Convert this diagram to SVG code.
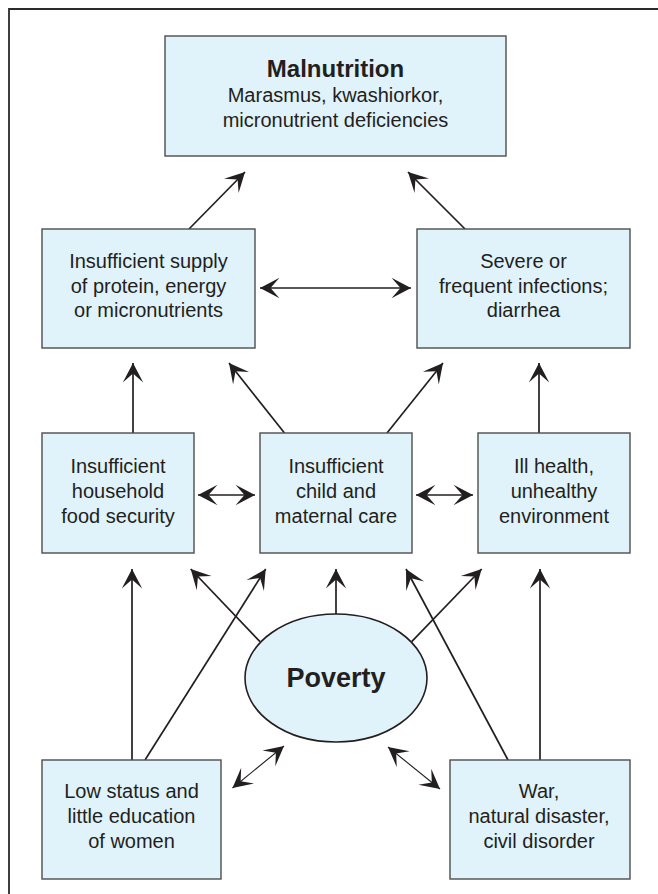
<svg xmlns="http://www.w3.org/2000/svg" width="658" height="894" viewBox="0 0 658 894">
  <defs>
    <style>
      .box { fill: #e0f2fa; stroke: #4d4d4d; stroke-width: 1.4; }
      .t { font-family: "Liberation Sans", Arial, sans-serif; font-size: 20px; fill: #231f20; text-anchor: middle; }
      .h1 { font-weight: bold; font-size: 24px; }
      .h2 { font-weight: bold; font-size: 27px; }
      .c { stroke: #231f20; stroke-width: 1.7; fill: none; marker-end: url(#ah); }
      .d { marker-start: url(#ah); }
      .thin { stroke-width: 1.1; }
    </style>
    <marker id="ah" markerUnits="userSpaceOnUse" viewBox="0 0 22 22" markerWidth="22" markerHeight="22" refX="20.5" refY="11" orient="auto-start-reverse">
      <path d="M20.5,11 L1,0.8 L10,11 L1,21.2 Z" fill="#231f20"/>
    </marker>
  </defs>

  <rect width="658" height="894" fill="#ffffff"/>
  <path d="M9,894 L9,9 L658,9" fill="none" stroke="#2b2b2b" stroke-width="1.8"/>

  <g id="connectors">
    <line class="c" x1="189" y1="229" x2="245" y2="172"/>
    <line class="c" x1="465" y1="229" x2="408" y2="172"/>
    <line class="c d" x1="260" y1="288" x2="411" y2="288"/>
    <line class="c" x1="133" y1="433" x2="133" y2="363"/>
    <line class="c" x1="284.5" y1="433" x2="229" y2="363"/>
    <line class="c" x1="387" y1="433" x2="443" y2="363"/>
    <line class="c" x1="539" y1="433" x2="539" y2="363"/>
    <line class="c d" x1="198" y1="495" x2="255" y2="495"/>
    <line class="c d" x1="416" y1="495" x2="473" y2="495"/>
    <line class="c" x1="132" y1="760" x2="132" y2="569"/>
    <line class="c" x1="260" y1="641.7" x2="190.7" y2="569"/>
    <line class="c" x1="145" y1="760" x2="265.7" y2="569"/>
    <line class="c" x1="336" y1="614" x2="336" y2="569"/>
    <line class="c" x1="508" y1="760" x2="406" y2="569"/>
    <line class="c" x1="411.7" y1="641.7" x2="481.7" y2="569"/>
    <line class="c" x1="540" y1="760" x2="540" y2="569"/>
    <line class="c d thin" x1="232.5" y1="788" x2="284" y2="746"/>
    <line class="c d thin" x1="388" y1="747" x2="440" y2="789"/>
  </g>

  <g id="malnutrition">
    <rect class="box" x="165" y="36" width="341" height="120"/>
    <text class="t h1" x="335.5" y="77">Malnutrition</text>
    <text class="t" x="335.5" y="102">Marasmus, kwashiorkor,</text>
    <text class="t" x="335.5" y="127">micronutrient deficiencies</text>
  </g>

  <g id="supply">
    <rect class="box" x="42" y="229" width="213" height="119"/>
    <text class="t" x="148.5" y="268">Insufficient supply</text>
    <text class="t" x="148.5" y="293">of protein, energy</text>
    <text class="t" x="148.5" y="317">or micronutrients</text>
  </g>

  <g id="infections">
    <rect class="box" x="417" y="229" width="213" height="119"/>
    <text class="t" x="523.5" y="268">Severe or</text>
    <text class="t" x="523.5" y="293">frequent infections;</text>
    <text class="t" x="523.5" y="317">diarrhea</text>
  </g>

  <g id="household">
    <rect class="box" x="42" y="433" width="152" height="120"/>
    <text class="t" x="118" y="473">Insufficient</text>
    <text class="t" x="118" y="498">household</text>
    <text class="t" x="118" y="523">food security</text>
  </g>

  <g id="care">
    <rect class="box" x="260" y="433" width="152" height="120"/>
    <text class="t" x="336" y="473">Insufficient</text>
    <text class="t" x="336" y="498">child and</text>
    <text class="t" x="336" y="523">maternal care</text>
  </g>

  <g id="health">
    <rect class="box" x="478" y="433" width="152" height="120"/>
    <text class="t" x="554" y="473">Ill health,</text>
    <text class="t" x="554" y="498">unhealthy</text>
    <text class="t" x="554" y="523">environment</text>
  </g>

  <g id="poverty">
    <ellipse cx="336" cy="678" rx="91" ry="64" fill="#e0f2fa" stroke="#231f20" stroke-width="1.6"/>
    <text class="t h2" x="336" y="687">Poverty</text>
  </g>

  <g id="women">
    <rect class="box" x="42" y="760" width="179" height="119"/>
    <text class="t" x="131.5" y="798">Low status and</text>
    <text class="t" x="131.5" y="823">little education</text>
    <text class="t" x="131.5" y="848">of women</text>
  </g>

  <g id="war">
    <rect class="box" x="450" y="760" width="180" height="119"/>
    <text class="t" x="539" y="798">War,</text>
    <text class="t" x="539" y="823">natural disaster,</text>
    <text class="t" x="539" y="848">civil disorder</text>
  </g>
</svg>
